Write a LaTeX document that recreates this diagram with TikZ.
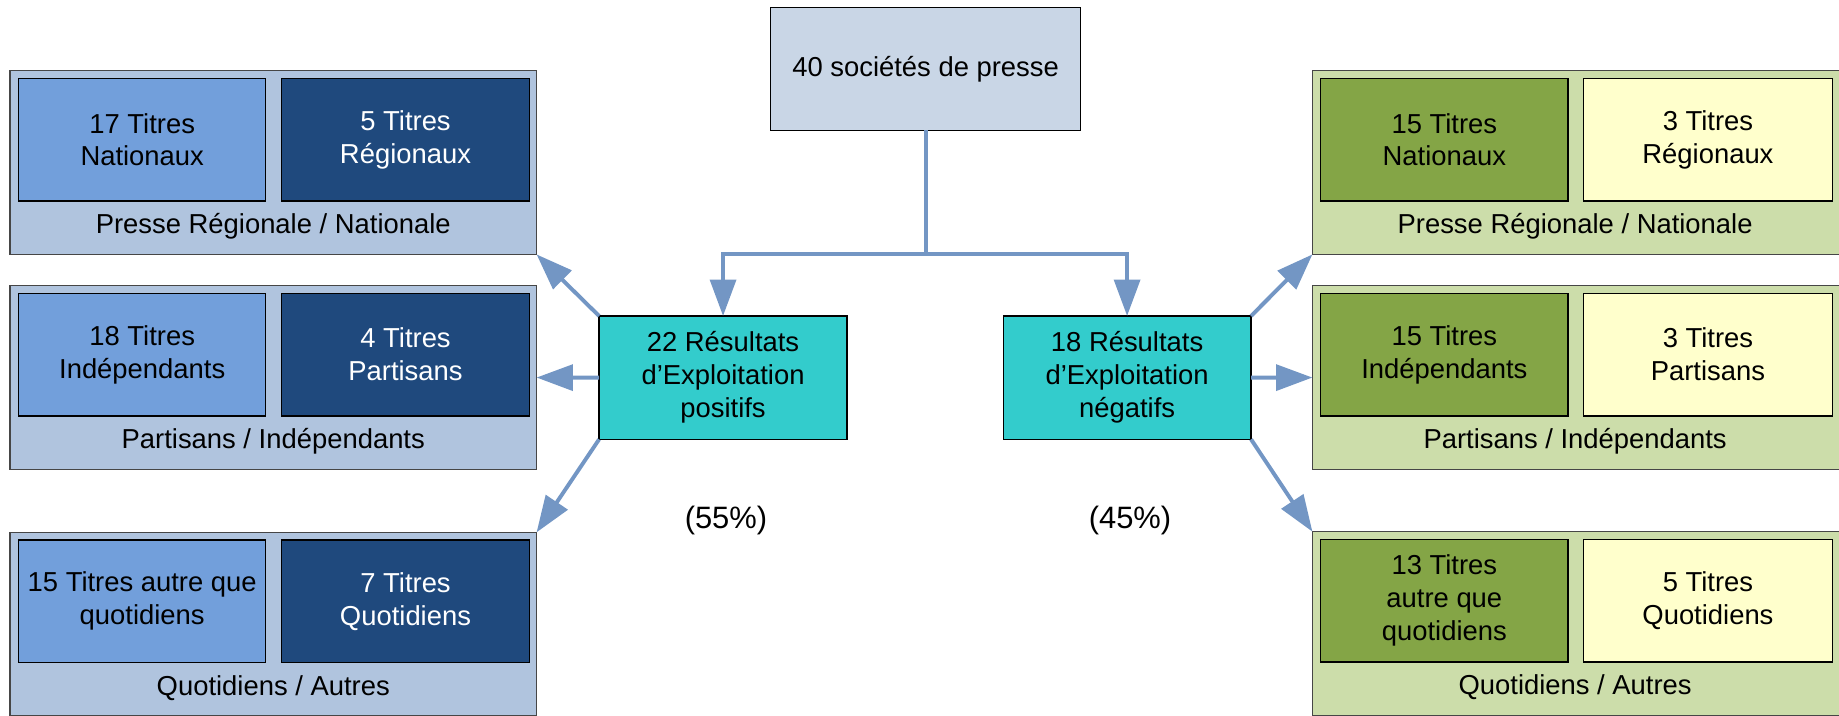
\documentclass[tikz,border=0pt]{standalone}
\usepackage{fontspec}
\setmainfont{Liberation Sans}
\usetikzlibrary{arrows.meta}
\definecolor{lout}{RGB}{176,196,222}
\definecolor{llight}{RGB}{114,159,219}
\definecolor{ldark}{RGB}{31,73,125}
\definecolor{rout}{RGB}{204,221,170}
\definecolor{rgreen}{RGB}{132,165,70}
\definecolor{ryellow}{RGB}{255,255,204}
\definecolor{topfill}{RGB}{201,214,230}
\definecolor{tealbox}{RGB}{51,204,204}
\definecolor{conncol}{RGB}{115,150,196}
\definecolor{bord}{RGB}{70,70,70}
\begin{document}
\begin{tikzpicture}[x=0.02cm,y=-0.02cm,
  every node/.style={inner sep=0pt,outer sep=0pt,align=center,font=\fontsize{13.3}{16}\selectfont},
  sz/.style 2 args={minimum width=#1*0.02cm,minimum height=#2*0.02cm},
  outerL/.style={draw=bord,line width=0.7pt,fill=lout,sz={449}{156.6}},
  outerR/.style={draw=bord,line width=0.7pt,fill=rout,sz={461}{156.6}},
  innerbox/.style={draw=black,line width=0.6pt},
  lightL/.style={innerbox,fill=llight,sz={210.5}{104.6}},
  darkL/.style={innerbox,fill=ldark,text=white,sz={211.5}{104.6}},
  greenR/.style={innerbox,fill=rgreen,sz={211}{104.6}},
  yellowR/.style={innerbox,fill=ryellow,sz={212.5}{104.6}},
  mainbox/.style={draw=black,line width=0.6pt,fill=tealbox,sz={211.4}{105.2}},
  pct/.style={font=\fontsize{15}{18}\selectfont},
  conn/.style={draw=conncol,line width=1.9pt},
  arr/.style={conn,-{Triangle[length=0.62cm,width=0.44cm]}}
]
\useasboundingbox (0,0) rectangle (1568,610);
\clip (0,0) rectangle (1568,610);

% top
\node[draw=black,line width=0.6pt,fill=topfill,sz={264.7}{104.8}] (top) at (789.2,58.7) {40 sociétés de presse};

% central boxes
\node[mainbox] (pos) at (616.5,322) {22 Résultats\\d’Exploitation\\positifs};
\node[mainbox] (neg) at (961,322) {18 Résultats\\d’Exploitation\\négatifs};
\node[pct] (p55) at (619,444) {(55\%)};
\node[pct] (p45) at (963.5,444) {(45\%)};

% left groups
\node[outerL] (L1) at (233,138.6) {};
\node[lightL] (L1a) at (121.25,119.1) {17 Titres\\Nationaux};
\node[darkL] (L1b) at (345.75,119.1) {5 Titres\\Régionaux};
\node (L1t) at (233,193.3) {Presse Régionale / Nationale};

\node[outerL] (L2) at (233,321.9) {};
\node[lightL] (L2a) at (121.25,302.4) {18 Titres\\Indépendants};
\node[darkL] (L2b) at (345.75,302.4) {4 Titres\\Partisans};
\node (L2t) at (233,376.6) {Partisans / Indépendants};

\node[outerL] (L3) at (233,532.2) {};
\node[lightL] (L3a) at (121.25,512.7) {15 Titres autre que\\quotidiens};
\node[darkL] (L3b) at (345.75,512.7) {7 Titres\\Quotidiens};
\node (L3t) at (233,586.9) {Quotidiens / Autres};

% right groups
\node[outerR] (R1) at (1349.5,138.6) {};
\node[greenR] (R1a) at (1231.5,119.1) {15 Titres\\Nationaux};
\node[yellowR] (R1b) at (1456.25,119.1) {3 Titres\\Régionaux};
\node (R1t) at (1343,193.3) {Presse Régionale / Nationale};

\node[outerR] (R2) at (1349.5,321.9) {};
\node[greenR] (R2a) at (1231.5,302.4) {15 Titres\\Indépendants};
\node[yellowR] (R2b) at (1456.25,302.4) {3 Titres\\Partisans};
\node (R2t) at (1343,376.6) {Partisans / Indépendants};

\node[outerR] (R3) at (1349.5,531.6) {};
\node[greenR] (R3a) at (1231.5,512.1) {13 Titres\\autre que\\quotidiens};
\node[yellowR] (R3b) at (1456.25,512.1) {5 Titres\\Quotidiens};
\node (R3t) at (1343,586.3) {Quotidiens / Autres};

% connectors from top
\coordinate (j) at (789.2,216.3);
\draw[conn] (top.south) -- (j);
\draw[arr] (j) -| (pos.north);
\draw[arr] (j) -| (neg.north);

% left arrows
\draw[arr] (pos.north west) -- (L1.south east);
\draw[arr] (pos.west) -- (L2.east);
\draw[arr] (pos.south west) -- (L3.north east);

% right arrows
\draw[arr] (neg.north east) -- (R1.south west);
\draw[arr] (neg.east) -- (R2.west);
\draw[arr] (neg.south east) -- (R3.north west);
\end{tikzpicture}
\end{document}
